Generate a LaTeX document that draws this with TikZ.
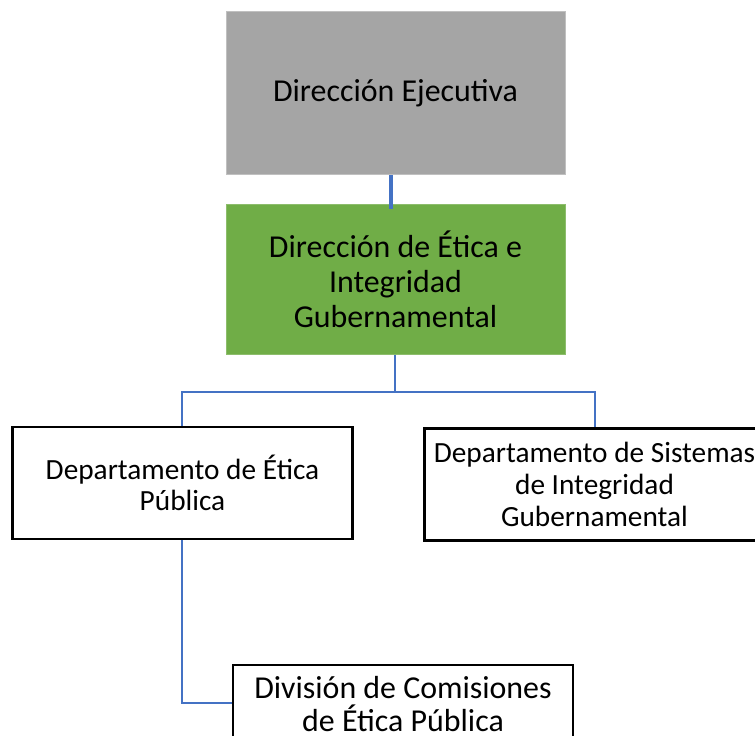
\documentclass[tikz,border=0pt]{standalone}
\usepackage{fontspec}
\setmainfont{Carlito}
\definecolor{boxgray}{HTML}{A5A5A5}
\definecolor{boxgreen}{HTML}{70AD47}
\definecolor{linkblue}{HTML}{4472C4}
\begin{document}
\begin{tikzpicture}[x=1pt,y=-1pt,
  topbox/.style={rectangle, inner sep=0pt, minimum width=339pt, align=center, font=\fontsize{31.9}{35.2}\selectfont},
  unitbox/.style={rectangle, draw=black, line width=2.3pt, inner sep=0pt, minimum width=340pt, minimum height=112pt, align=center, font=\fontsize{29.3}{31.6}\selectfont},
  link/.style={draw=linkblue, line width=2.4pt},
  thicklink/.style={draw=linkblue, line width=3.8pt}]
\useasboundingbox (0,0) rectangle (755,736);
\fill[white] (0,0) rectangle (755,736);
\node[topbox, fill=boxgray, draw=boxgray!70!white, line width=0.8pt, minimum height=163pt] (exec) at (395.5,93) {Dirección Ejecutiva};
\node[topbox, fill=boxgreen, draw=boxgreen!80!white, line width=0.8pt, minimum height=150pt] (dir) at (395.5,279.5) {Dirección de Ética e\\Integridad\\Gubernamental};
\node[unitbox] (etica) at (182.5,483) {Departamento de Ética\\Pública};
\node[unitbox] (sist) at (594.5,484.5) {Departamento de Sistemas\\de Integridad\\Gubernamental};
\node[unitbox, minimum height=78pt, font=\fontsize{31.9}{33}\selectfont] (div) at (403,704) {División de Comisiones\\de Ética Pública};
\coordinate (bus) at (395,392);
\coordinate (corner) at (182,703);
\draw[thicklink] (391,175) -- (391,209);
\draw[link] (dir.south -| bus) -- (bus);
\draw[link] (etica.north -| 182,0) |- (bus) -| (sist.north -| 595,0);
\draw[link] (etica.south -| corner) -- (corner) -- (div.west |- corner);
\end{tikzpicture}
\end{document}
